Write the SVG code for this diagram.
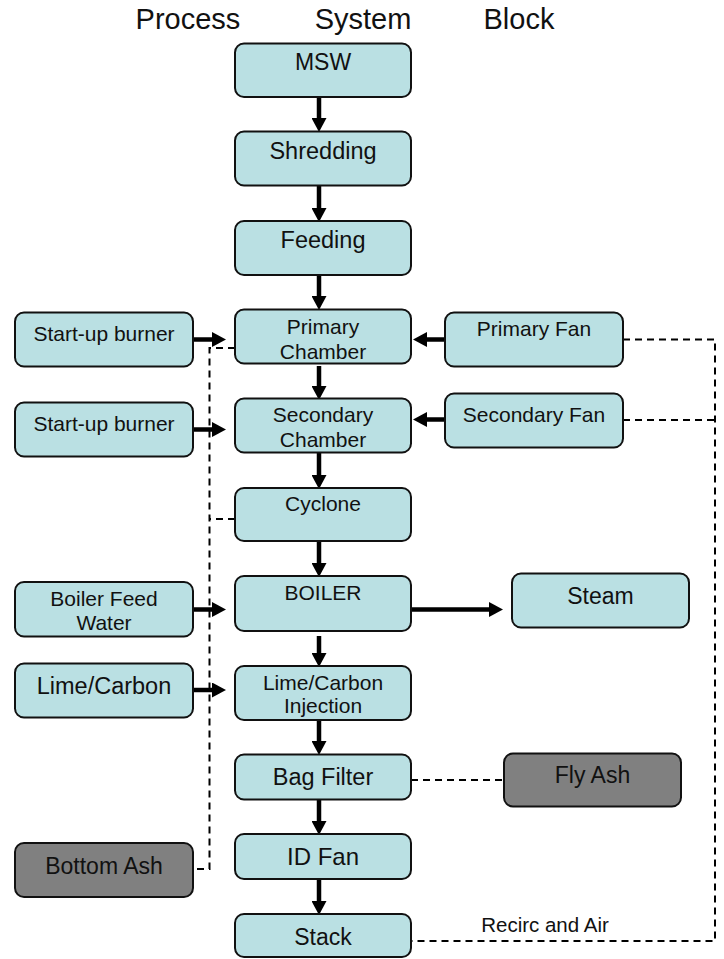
<svg xmlns="http://www.w3.org/2000/svg" width="724" height="959" viewBox="0 0 724 959">
<defs>
<style>
.b{fill:#BAE0E3;stroke:#111;stroke-width:2}
.g{fill:#808080;stroke:#111;stroke-width:2}
text{font-family:"Liberation Sans",Arial,sans-serif;fill:#111;text-anchor:middle}
.a{stroke:#000;stroke-width:4.5;fill:none}
.d{stroke:#000;stroke-width:2;fill:none;stroke-dasharray:7,5}
</style>
<marker id="h" markerUnits="userSpaceOnUse" markerWidth="14" markerHeight="15" refX="0" refY="7.5" orient="auto">
<path d="M0,0 L14,7.5 L0,15 Z" fill="#000"/>
</marker>
</defs>
<rect width="724" height="959" fill="#fff"/>
<g id="title">
<text x="188" y="29" style="font-size:29px">Process</text>
<text x="363" y="29" style="font-size:29px">System</text>
<text x="519" y="29" style="font-size:29px">Block</text>
</g>
<g id="connectors">
<line class="a" x1="319" y1="97" x2="319" y2="118" marker-end="url(#h)"/>
<line class="a" x1="319" y1="186" x2="319" y2="208" marker-end="url(#h)"/>
<line class="a" x1="319" y1="275" x2="319" y2="296" marker-end="url(#h)"/>
<line class="a" x1="319" y1="366" x2="319" y2="386" marker-end="url(#h)"/>
<line class="a" x1="319" y1="453" x2="319" y2="475" marker-end="url(#h)"/>
<line class="a" x1="319" y1="541" x2="319" y2="563" marker-end="url(#h)"/>
<line class="a" x1="319" y1="636" x2="319" y2="653" marker-end="url(#h)"/>
<line class="a" x1="319" y1="720" x2="319" y2="741" marker-end="url(#h)"/>
<line class="a" x1="319" y1="800" x2="319" y2="821" marker-end="url(#h)"/>
<line class="a" x1="319" y1="879" x2="319" y2="901" marker-end="url(#h)"/>
<line class="a" x1="193" y1="339.5" x2="212" y2="339.5" marker-end="url(#h)"/>
<line class="a" x1="193" y1="429.5" x2="212" y2="429.5" marker-end="url(#h)"/>
<line class="a" x1="193" y1="609.5" x2="212" y2="609.5" marker-end="url(#h)"/>
<line class="a" x1="193" y1="690" x2="212" y2="690" marker-end="url(#h)"/>
<line class="a" x1="445" y1="339.5" x2="427" y2="339.5" marker-end="url(#h)"/>
<line class="a" x1="445" y1="419.5" x2="427" y2="419.5" marker-end="url(#h)"/>
<line class="a" x1="411" y1="609.5" x2="489" y2="609.5" marker-end="url(#h)"/>
<path class="d" d="M235,348 H209.5 V869 H193"/>
<path class="d" d="M235,519 H209.5"/>
<path class="d" d="M623,339.5 H715 V941 H411"/>
<path class="d" d="M623,420 H715"/>
<path class="d" d="M411,780 H504"/>
<text x="545" y="931.5" style="font-size:20.5px">Recirc and Air</text>
</g>
<g id="msw"><rect class="b" x="235" y="43.5" width="176" height="53.5" rx="9"/><text x="323" y="69.5" style="font-size:23px">MSW</text></g>
<g id="shredding"><rect class="b" x="235" y="131.5" width="176" height="54" rx="9"/><text x="323" y="158.5" style="font-size:23.5px">Shredding</text></g>
<g id="feeding"><rect class="b" x="235" y="221" width="176" height="54" rx="9"/><text x="323" y="247.5" style="font-size:23.5px">Feeding</text></g>
<g id="primary-chamber"><rect class="b" x="235" y="309.5" width="176" height="54" rx="9"/><text x="323" y="333.5" style="font-size:21px">Primary</text><text x="323" y="358.5" style="font-size:21px">Chamber</text></g>
<g id="secondary-chamber"><rect class="b" x="235" y="398.5" width="176" height="54" rx="9"/><text x="323" y="422" style="font-size:21px">Secondary</text><text x="323" y="447" style="font-size:21px">Chamber</text></g>
<g id="cyclone"><rect class="b" x="235" y="488" width="176" height="53" rx="9"/><text x="323" y="511" style="font-size:21px">Cyclone</text></g>
<g id="boiler"><rect class="b" x="235" y="576" width="176" height="55" rx="9"/><text x="323" y="600" style="font-size:21px">BOILER</text></g>
<g id="lime-injection"><rect class="b" x="235" y="666" width="176" height="54" rx="9"/><text x="323" y="689.5" style="font-size:21px">Lime/Carbon</text><text x="323" y="713" style="font-size:21px">Injection</text></g>
<g id="bag-filter"><rect class="b" x="235" y="754.5" width="176" height="45" rx="9"/><text x="323" y="785" style="font-size:23.5px">Bag Filter</text></g>
<g id="id-fan"><rect class="b" x="235" y="834" width="176" height="45" rx="9"/><text x="323" y="865" style="font-size:24px">ID Fan</text></g>
<g id="stack"><rect class="b" x="235" y="914" width="176" height="43" rx="9"/><text x="323" y="945" style="font-size:23px">Stack</text></g>
<g id="startup-1"><rect class="b" x="15" y="312.5" width="178" height="54" rx="9"/><text x="104" y="341" style="font-size:21px">Start-up burner</text></g>
<g id="startup-2"><rect class="b" x="15" y="402.5" width="178" height="54" rx="9"/><text x="104" y="431" style="font-size:21px">Start-up burner</text></g>
<g id="boiler-feed-water"><rect class="b" x="15" y="582" width="178" height="54.5" rx="9"/><text x="104" y="605.5" style="font-size:21px">Boiler Feed</text><text x="104" y="629.5" style="font-size:21px">Water</text></g>
<g id="lime-carbon"><rect class="b" x="15" y="663.5" width="178" height="54" rx="9"/><text x="104" y="694" style="font-size:23.5px">Lime/Carbon</text></g>
<g id="bottom-ash"><rect class="g" x="15" y="843" width="178" height="54" rx="9"/><text x="104" y="873.5" style="font-size:23px">Bottom Ash</text></g>
<g id="primary-fan"><rect class="b" x="445" y="312.5" width="178" height="54" rx="9"/><text x="534" y="336" style="font-size:21px">Primary Fan</text></g>
<g id="secondary-fan"><rect class="b" x="445" y="393.5" width="178" height="54" rx="9"/><text x="534" y="421.5" style="font-size:21px">Secondary Fan</text></g>
<g id="steam"><rect class="b" x="512" y="573.5" width="177" height="54" rx="9"/><text x="600.5" y="603.5" style="font-size:23px">Steam</text></g>
<g id="fly-ash"><rect class="g" x="504" y="753.5" width="177" height="53" rx="9"/><text x="592.5" y="783" style="font-size:23px">Fly Ash</text></g>
</svg>
